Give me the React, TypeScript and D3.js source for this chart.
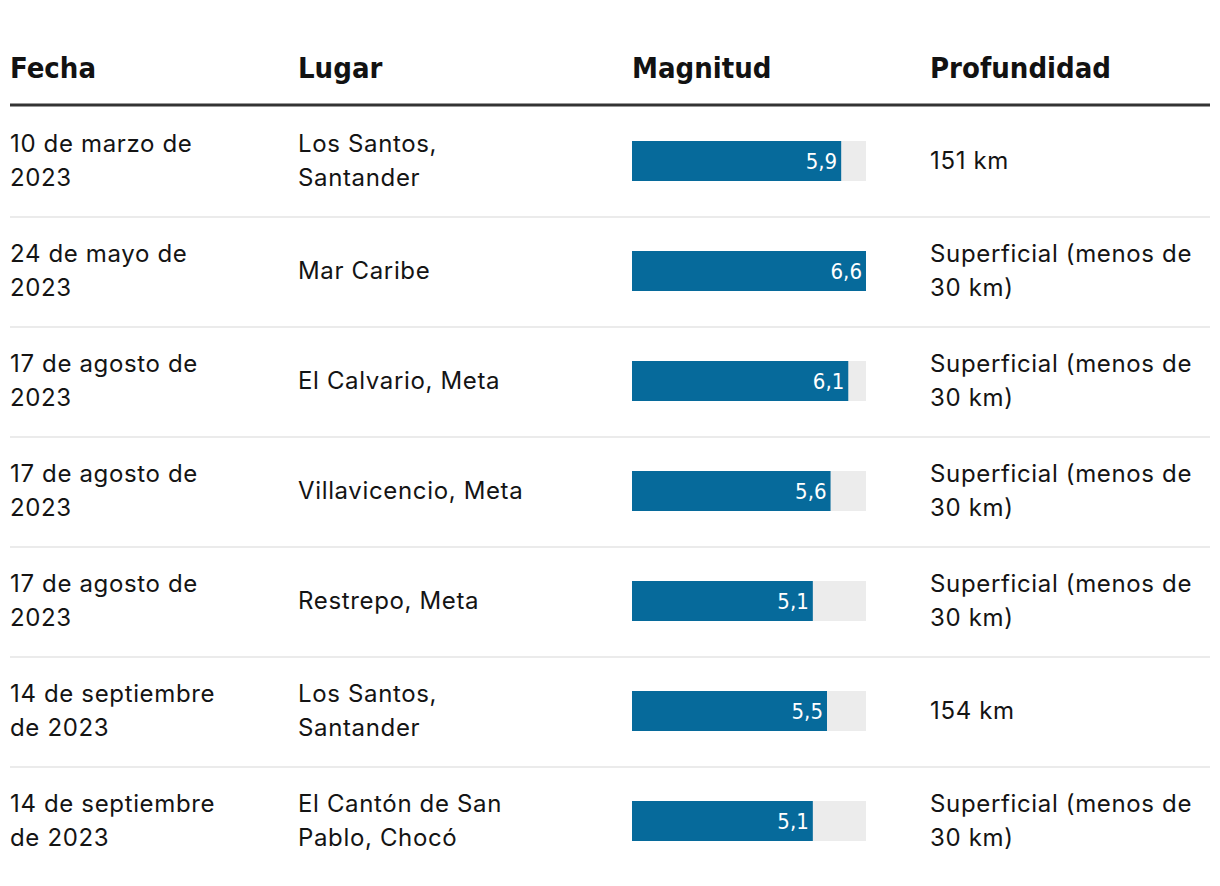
import React from "react";
import * as d3 from "d3";

const headers = ["Fecha", "Lugar", "Magnitud", "Profundidad"];
const fechas = [
  ["10 de marzo de", "2023"],
  ["24 de mayo de", "2023"],
  ["17 de agosto de", "2023"],
  ["17 de agosto de", "2023"],
  ["17 de agosto de", "2023"],
  ["14 de septiembre", "de 2023"],
  ["14 de septiembre", "de 2023"],
];
const lugares = [
  ["Los Santos,", "Santander"],
  ["Mar Caribe"],
  ["El Calvario, Meta"],
  ["Villavicencio, Meta"],
  ["Restrepo, Meta"],
  ["Los Santos,", "Santander"],
  ["El Cantón de San", "Pablo, Chocó"],
];
const magnitudes = [5.9, 6.6, 6.1, 5.6, 5.1, 5.5, 5.1];
const profundidades = [
  ["151 km"],
  ["Superficial (menos de", "30 km)"],
  ["Superficial (menos de", "30 km)"],
  ["Superficial (menos de", "30 km)"],
  ["Superficial (menos de", "30 km)"],
  ["154 km"],
  ["Superficial (menos de", "30 km)"],
];

const W = 1220;
const H = 886;
const colX = [10, 298, 632, 930];
const headerBase = 78;
const ruleY = 105;
const rowTop = 107;
const rowH = 110;
const barW = 234;
const barH = 40;
const bodyFont = "Inter, 'Open Sans', sans-serif";
const headFont = "'Liberation Sans Narrow', 'DejaVu Sans Condensed', sans-serif";

function Lines({ x, cy, lines }: { x: number; cy: number; lines: string[] }) {
  const lh = 34;
  const first = lines.length === 1 ? cy + 8 : cy - 9;
  return (
    <text x={x} y={first} fontFamily={bodyFont} fontSize={24} letterSpacing={0.65} fill="#141414">
      {lines.map((l, i) => (
        <tspan key={i} x={x} dy={i === 0 ? 0 : lh}>
          {l}
        </tspan>
      ))}
    </text>
  );
}

export default function App() {
  const xs = d3.scaleLinear().domain([0, d3.max(magnitudes) as number]).range([0, barW]);
  const fmt = (v: number) => d3.format(".1f")(v).replace(".", ",");
  return (
    <svg width={W} height={H} style={{ position: "absolute", left: 0, top: 0, background: "#fff" }}>
      {headers.map((h, i) => (
        <text key={h} x={colX[i]} y={headerBase} fontFamily={headFont} fontWeight="bold" fontSize={29} fill="#121212">
          {h}
        </text>
      ))}
      <rect x={10} y={ruleY - 1.5} width={1200} height={3} fill="#333" />
      {magnitudes.map((m, i) => {
        const top = rowTop + i * rowH;
        const cy = top + rowH / 2 - 1;
        return (
          <g key={i}>
            <Lines x={colX[0]} cy={cy} lines={fechas[i]} />
            <Lines x={colX[1]} cy={cy} lines={lugares[i]} />
            <rect x={colX[2]} y={cy - barH / 2} width={barW} height={barH} fill="#ececec" />
            <rect x={colX[2]} y={cy - barH / 2} width={xs(m)} height={barH} fill="#066a9b" />
            <text
              x={colX[2] + xs(m) - 4}
              y={cy + 8}
              textAnchor="end"
              fontFamily={headFont}
              fontSize={22}
              fill="#fff"
            >
              {fmt(m)}
            </text>
            <Lines x={colX[3]} cy={cy} lines={profundidades[i]} />
            {i < magnitudes.length - 1 && (
              <rect x={10} y={top + rowH - 1} width={1200} height={2} fill="#ebebeb" />
            )}
          </g>
        );
      })}
    </svg>
  );
}
